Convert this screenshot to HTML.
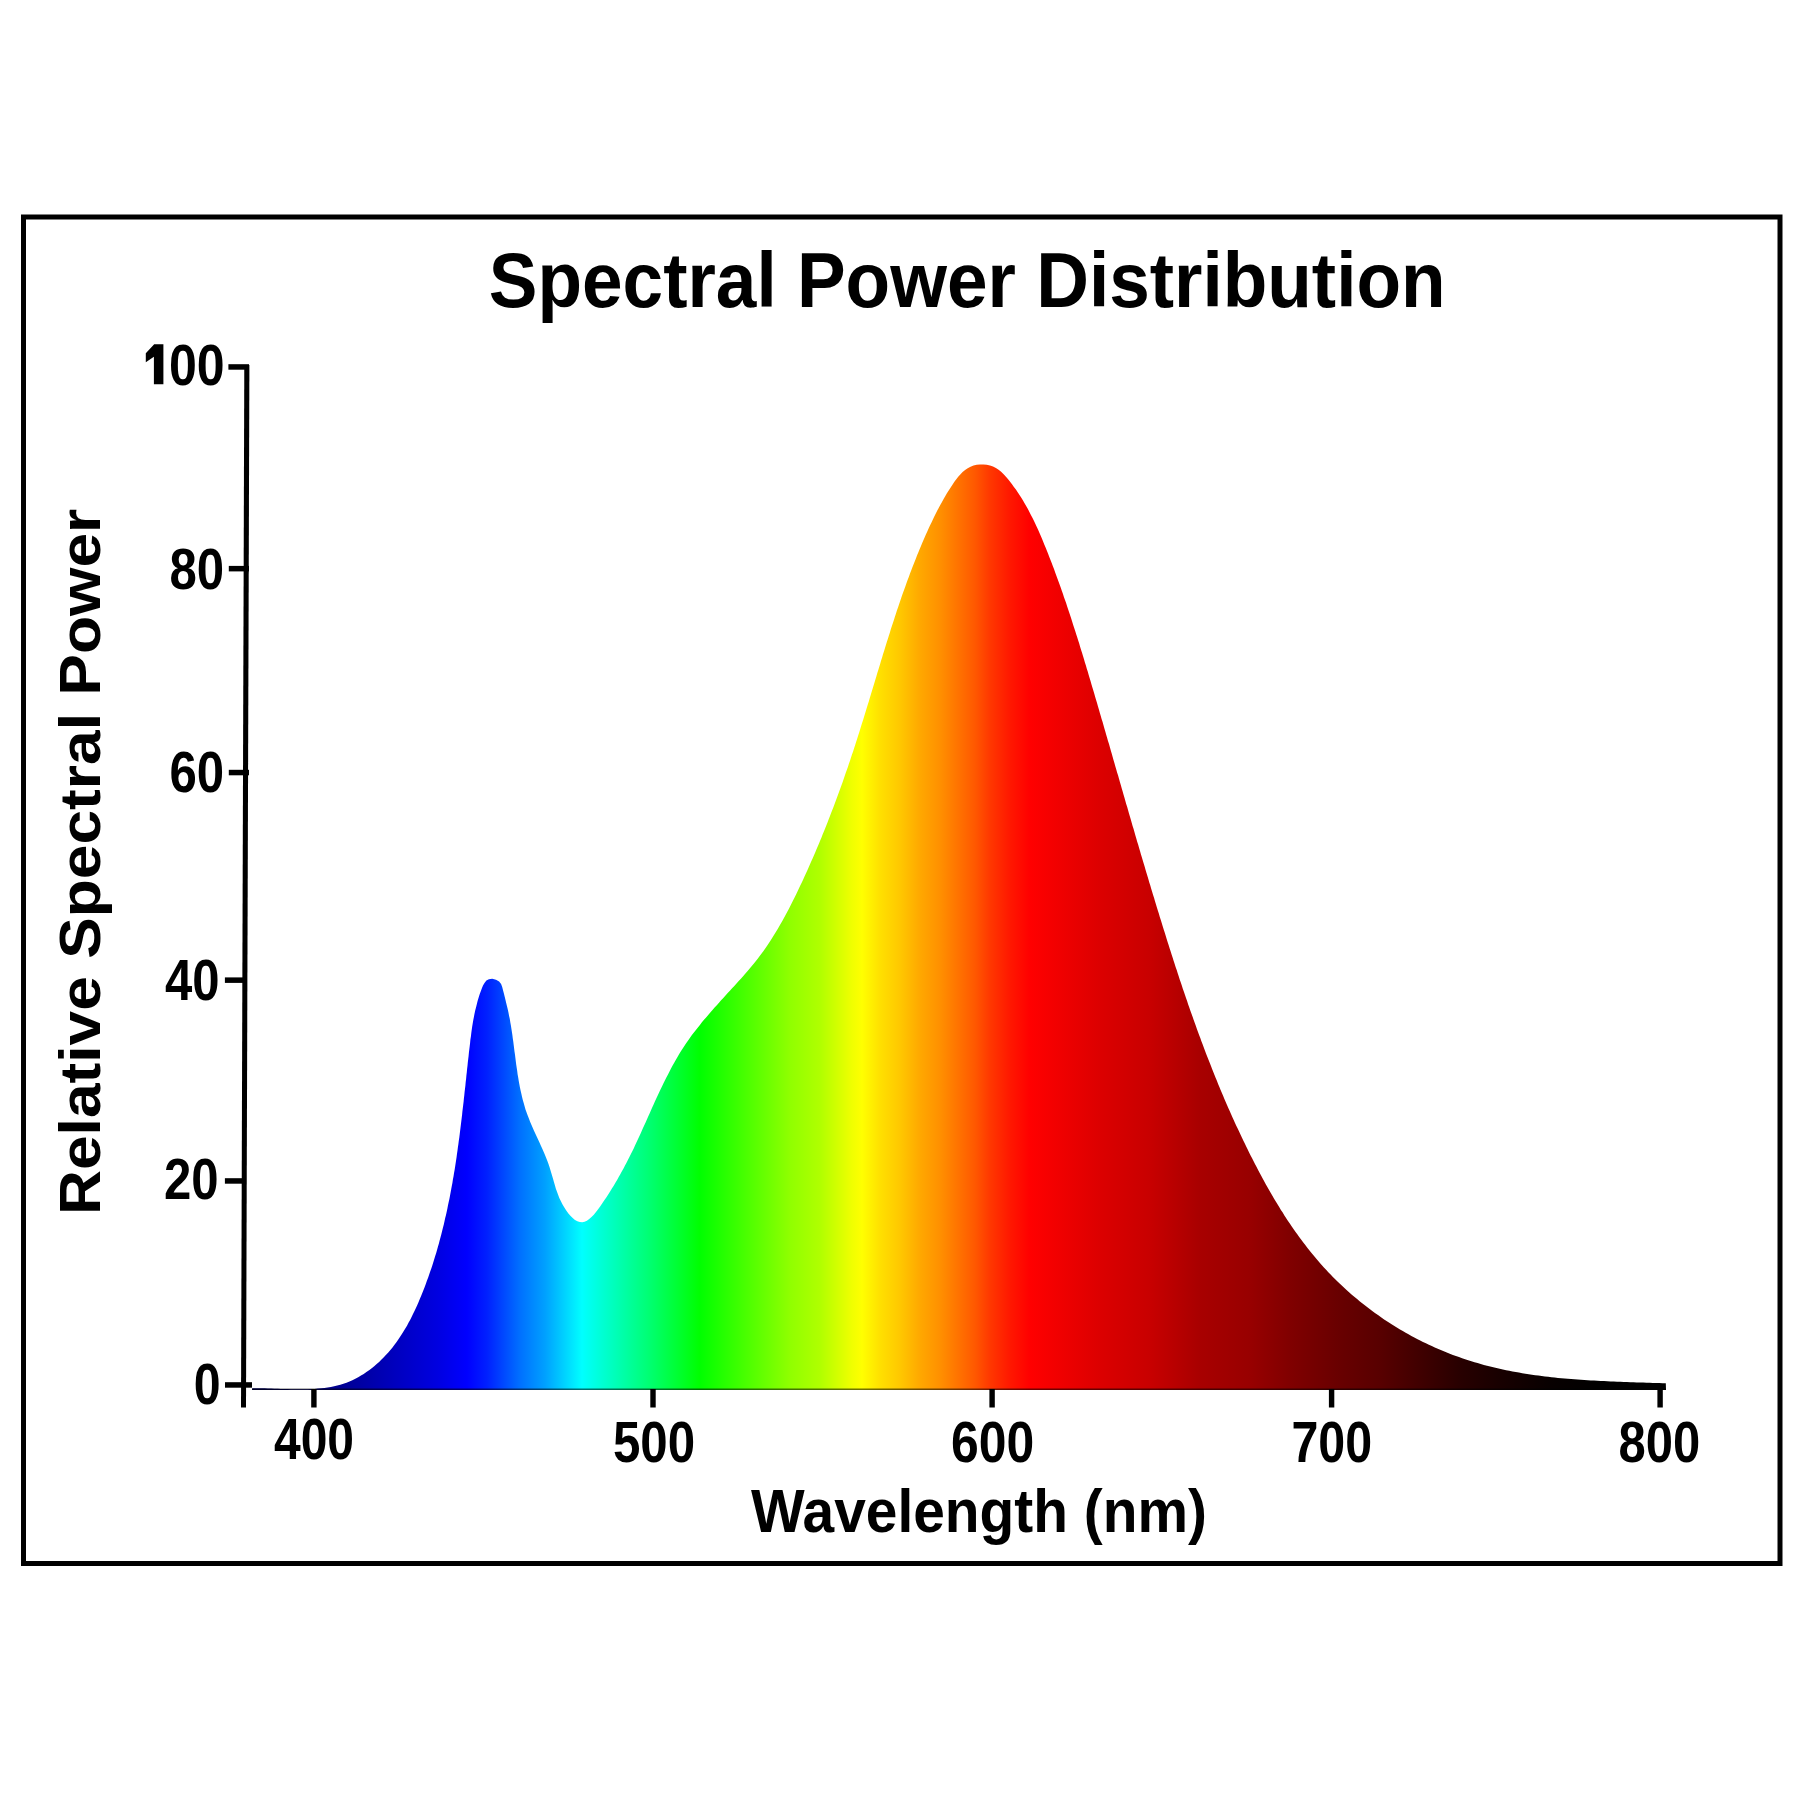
<!DOCTYPE html>
<html><head><meta charset="utf-8"><style>
html,body{margin:0;padding:0;background:#fff;width:1800px;height:1800px;overflow:hidden}
svg{display:block;position:absolute;left:0;top:0}
</style></head><body>
<svg width="1800" height="1800" viewBox="0 0 1800 1800">
<rect width="1800" height="1800" fill="#fff"/>
<rect x="23.5" y="217" width="1756.5" height="1346.5" fill="none" stroke="#000" stroke-width="5"/>
<defs><linearGradient id="spec" gradientUnits="userSpaceOnUse" x1="250" y1="0" x2="1670" y2="0"><stop offset="0.0000" stop-color="#000050"/>
<stop offset="0.0613" stop-color="#000090"/>
<stop offset="0.0965" stop-color="#0000b8"/>
<stop offset="0.1317" stop-color="#0000e0"/>
<stop offset="0.1528" stop-color="#0000ff"/>
<stop offset="0.1669" stop-color="#0020ff"/>
<stop offset="0.1901" stop-color="#0070ff"/>
<stop offset="0.2077" stop-color="#00a0ff"/>
<stop offset="0.2338" stop-color="#00ffff"/>
<stop offset="0.2465" stop-color="#00ffd8"/>
<stop offset="0.2817" stop-color="#00ff70"/>
<stop offset="0.3169" stop-color="#00ff00"/>
<stop offset="0.3521" stop-color="#50ff00"/>
<stop offset="0.3803" stop-color="#90ff00"/>
<stop offset="0.4014" stop-color="#b0ff00"/>
<stop offset="0.4155" stop-color="#d8ff00"/>
<stop offset="0.4239" stop-color="#f0ff00"/>
<stop offset="0.4310" stop-color="#ffff00"/>
<stop offset="0.4437" stop-color="#ffe000"/>
<stop offset="0.4577" stop-color="#ffc800"/>
<stop offset="0.4718" stop-color="#ffa800"/>
<stop offset="0.4859" stop-color="#ff9000"/>
<stop offset="0.5000" stop-color="#ff7000"/>
<stop offset="0.5106" stop-color="#ff5800"/>
<stop offset="0.5211" stop-color="#ff3800"/>
<stop offset="0.5352" stop-color="#ff1800"/>
<stop offset="0.5493" stop-color="#ff0000"/>
<stop offset="0.5704" stop-color="#f00000"/>
<stop offset="0.5986" stop-color="#dc0000"/>
<stop offset="0.6338" stop-color="#c80000"/>
<stop offset="0.6690" stop-color="#a80000"/>
<stop offset="0.7042" stop-color="#980000"/>
<stop offset="0.7324" stop-color="#800000"/>
<stop offset="0.7676" stop-color="#680000"/>
<stop offset="0.7958" stop-color="#580000"/>
<stop offset="0.8239" stop-color="#400000"/>
<stop offset="0.8521" stop-color="#280000"/>
<stop offset="0.8803" stop-color="#180000"/>
<stop offset="0.9155" stop-color="#080000"/>
<stop offset="0.9507" stop-color="#000000"/>
<stop offset="1.0000" stop-color="#000000"/></linearGradient></defs>
<path d="M252.2,1388.2 L255.3,1388.2 L258.4,1388.2 L261.5,1388.3 L264.7,1388.3 L267.9,1388.4 L271.2,1388.5 L274.4,1388.7 L277.7,1388.8 L281.0,1388.9 L284.4,1389.0 L287.7,1389.1 L291.0,1389.2 L294.4,1389.3 L297.8,1389.3 L301.1,1389.3 L304.5,1389.3 L307.8,1389.2 L311.2,1389.1 L314.5,1388.9 L317.8,1388.6 L321.1,1388.3 L324.4,1387.9 L327.6,1387.5 L330.9,1386.9 L334.1,1386.3 L337.2,1385.5 L340.3,1384.7 L343.4,1383.7 L346.5,1382.7 L349.5,1381.5 L352.4,1380.2 L355.3,1378.8 L358.2,1377.3 L361.0,1375.6 L363.7,1373.9 L366.4,1372.1 L369.1,1370.2 L371.7,1368.3 L374.2,1366.2 L376.7,1364.1 L379.1,1361.9 L381.5,1359.6 L383.8,1357.2 L386.1,1354.8 L388.3,1352.4 L390.4,1349.9 L392.5,1347.4 L394.5,1344.8 L396.4,1342.2 L398.3,1339.5 L400.1,1336.8 L401.9,1334.1 L403.6,1331.3 L405.3,1328.5 L407.0,1325.7 L408.5,1322.8 L410.1,1319.9 L411.6,1317.0 L413.0,1314.1 L414.5,1311.1 L415.8,1308.2 L417.2,1305.2 L418.5,1302.2 L419.8,1299.1 L421.1,1296.1 L422.3,1293.1 L423.5,1290.0 L424.7,1287.0 L425.8,1283.9 L426.9,1280.8 L428.1,1277.7 L429.1,1274.7 L430.2,1271.6 L431.3,1268.5 L432.3,1265.4 L433.3,1262.2 L434.3,1259.1 L435.2,1256.0 L436.2,1252.9 L437.1,1249.7 L438.0,1246.6 L438.9,1243.4 L439.7,1240.3 L440.6,1237.1 L441.4,1234.0 L442.2,1230.8 L443.0,1227.6 L443.8,1224.5 L444.5,1221.3 L445.2,1218.1 L446.0,1214.9 L446.7,1211.7 L447.4,1208.5 L448.0,1205.3 L448.7,1202.1 L449.4,1198.9 L450.0,1195.7 L450.6,1192.5 L451.2,1189.3 L451.8,1186.1 L452.4,1182.9 L452.9,1179.6 L453.5,1176.4 L454.0,1173.2 L454.6,1169.9 L455.1,1166.7 L455.6,1163.5 L456.1,1160.2 L456.6,1157.0 L457.0,1153.8 L457.5,1150.5 L457.9,1147.3 L458.4,1144.0 L458.8,1140.8 L459.3,1137.5 L459.7,1134.3 L460.1,1131.0 L460.5,1127.8 L460.9,1124.5 L461.3,1121.3 L461.7,1118.0 L462.1,1114.8 L462.4,1111.5 L462.8,1108.2 L463.2,1105.0 L463.6,1101.7 L463.9,1098.5 L464.3,1095.2 L464.6,1091.9 L465.0,1088.7 L465.4,1085.4 L465.7,1082.1 L466.1,1078.9 L466.4,1075.6 L466.8,1072.3 L467.1,1069.1 L467.5,1065.8 L467.8,1062.5 L468.2,1059.3 L468.6,1056.0 L468.9,1052.7 L469.3,1049.4 L469.7,1046.2 L470.1,1042.9 L470.4,1039.6 L470.9,1036.4 L471.3,1033.1 L471.7,1029.9 L472.2,1026.6 L472.7,1023.4 L473.3,1020.1 L473.9,1016.9 L474.5,1013.7 L475.2,1010.5 L476.0,1007.4 L476.8,1004.2 L477.6,1001.0 L478.5,997.9 L479.5,994.8 L480.6,991.7 L481.8,988.6 L483.0,985.6 L484.5,982.9 L486.4,980.6 L488.9,979.2 L492.2,978.8 L496.0,979.7 L499.1,981.5 L501.1,984.1 L502.2,987.1 L503.1,990.4 L503.9,993.6 L504.7,996.8 L505.5,1000.0 L506.2,1003.1 L507.0,1006.3 L507.8,1009.5 L508.5,1012.7 L509.1,1015.9 L509.8,1019.1 L510.3,1022.3 L510.9,1025.5 L511.4,1028.7 L511.9,1032.0 L512.4,1035.2 L512.8,1038.5 L513.3,1041.7 L513.7,1045.0 L514.1,1048.2 L514.5,1051.5 L515.0,1054.8 L515.4,1058.0 L515.8,1061.3 L516.2,1064.5 L516.7,1067.8 L517.2,1071.0 L517.6,1074.3 L518.2,1077.5 L518.7,1080.8 L519.3,1084.0 L519.9,1087.2 L520.6,1090.4 L521.3,1093.6 L522.0,1096.8 L522.8,1099.9 L523.7,1103.1 L524.6,1106.2 L525.5,1109.4 L526.6,1112.5 L527.7,1115.6 L528.9,1118.6 L530.1,1121.7 L531.4,1124.7 L532.7,1127.8 L534.0,1130.8 L535.4,1133.8 L536.8,1136.8 L538.2,1139.8 L539.6,1142.8 L540.9,1145.8 L542.3,1148.8 L543.6,1151.8 L544.9,1154.8 L546.1,1157.8 L547.3,1160.8 L548.4,1163.8 L549.5,1166.9 L550.4,1169.9 L551.3,1173.0 L552.2,1176.1 L553.1,1179.1 L554.0,1182.2 L554.9,1185.3 L555.8,1188.5 L556.9,1191.6 L558.1,1194.7 L559.3,1197.9 L560.8,1201.0 L562.4,1204.2 L564.2,1207.3 L566.1,1210.3 L568.2,1213.2 L570.4,1215.8 L572.7,1218.0 L575.0,1219.9 L577.4,1221.2 L579.8,1222.1 L582.2,1222.2 L584.6,1221.7 L586.9,1220.7 L589.2,1219.1 L591.5,1217.0 L593.8,1214.7 L596.0,1212.0 L598.1,1209.2 L600.3,1206.3 L602.3,1203.3 L604.3,1200.3 L606.3,1197.4 L608.2,1194.5 L610.1,1191.6 L611.9,1188.6 L613.7,1185.7 L615.4,1182.8 L617.1,1180.0 L618.7,1177.1 L620.3,1174.2 L621.9,1171.3 L623.5,1168.4 L625.0,1165.6 L626.5,1162.7 L628.0,1159.8 L629.4,1157.0 L630.9,1154.1 L632.3,1151.2 L633.7,1148.4 L635.0,1145.5 L636.4,1142.6 L637.7,1139.7 L639.1,1136.8 L640.4,1133.9 L641.7,1131.0 L643.0,1128.1 L644.4,1125.1 L645.7,1122.2 L647.0,1119.2 L648.3,1116.3 L649.7,1113.3 L651.0,1110.3 L652.3,1107.3 L653.7,1104.3 L655.0,1101.3 L656.4,1098.3 L657.8,1095.3 L659.2,1092.3 L660.6,1089.3 L662.1,1086.3 L663.5,1083.3 L665.0,1080.3 L666.5,1077.3 L668.0,1074.4 L669.5,1071.4 L671.0,1068.5 L672.6,1065.6 L674.2,1062.7 L675.9,1059.8 L677.5,1057.0 L679.2,1054.1 L680.9,1051.3 L682.7,1048.6 L684.5,1045.8 L686.3,1043.1 L688.1,1040.4 L690.0,1037.8 L691.9,1035.1 L693.9,1032.5 L695.9,1029.9 L697.9,1027.4 L699.9,1024.9 L701.9,1022.3 L704.0,1019.8 L706.1,1017.4 L708.2,1014.9 L710.3,1012.4 L712.5,1010.0 L714.6,1007.6 L716.8,1005.2 L719.0,1002.7 L721.1,1000.3 L723.3,997.9 L725.5,995.5 L727.7,993.1 L729.9,990.7 L732.1,988.3 L734.3,985.9 L736.5,983.5 L738.7,981.1 L740.9,978.7 L743.1,976.2 L745.2,973.8 L747.4,971.3 L749.5,968.8 L751.6,966.3 L753.7,963.8 L755.7,961.3 L757.7,958.7 L759.7,956.1 L761.6,953.5 L763.5,950.9 L765.4,948.2 L767.3,945.5 L769.1,942.8 L770.9,940.1 L772.6,937.3 L774.3,934.6 L776.0,931.8 L777.7,929.0 L779.4,926.1 L781.0,923.3 L782.6,920.4 L784.2,917.6 L785.7,914.7 L787.3,911.8 L788.8,908.9 L790.3,906.0 L791.8,903.1 L793.3,900.1 L794.7,897.2 L796.2,894.2 L797.6,891.3 L799.0,888.3 L800.4,885.3 L801.8,882.4 L803.2,879.4 L804.5,876.4 L805.9,873.4 L807.3,870.4 L808.6,867.4 L809.9,864.5 L811.2,861.5 L812.6,858.5 L813.9,855.5 L815.2,852.4 L816.4,849.4 L817.7,846.4 L819.0,843.4 L820.2,840.4 L821.5,837.4 L822.7,834.3 L824.0,831.3 L825.2,828.3 L826.4,825.2 L827.6,822.2 L828.8,819.1 L830.0,816.1 L831.1,813.0 L832.3,810.0 L833.5,806.9 L834.6,803.9 L835.8,800.8 L836.9,797.8 L838.0,794.7 L839.2,791.6 L840.3,788.5 L841.4,785.5 L842.5,782.4 L843.6,779.3 L844.6,776.2 L845.7,773.1 L846.8,770.0 L847.9,766.9 L848.9,763.8 L850.0,760.7 L851.0,757.6 L852.0,754.5 L853.1,751.4 L854.1,748.3 L855.1,745.2 L856.1,742.1 L857.1,739.0 L858.1,735.8 L859.1,732.7 L860.1,729.6 L861.0,726.5 L862.0,723.3 L863.0,720.2 L864.0,717.1 L864.9,713.9 L865.9,710.8 L866.8,707.7 L867.8,704.5 L868.8,701.4 L869.7,698.3 L870.7,695.1 L871.6,692.0 L872.6,688.8 L873.5,685.7 L874.5,682.6 L875.4,679.4 L876.4,676.3 L877.3,673.1 L878.3,670.0 L879.2,666.9 L880.2,663.7 L881.1,660.6 L882.1,657.5 L883.0,654.3 L884.0,651.2 L885.0,648.1 L885.9,644.9 L886.9,641.8 L887.9,638.7 L888.9,635.5 L889.9,632.4 L890.8,629.3 L891.8,626.2 L892.9,623.1 L893.9,619.9 L894.9,616.8 L895.9,613.7 L896.9,610.6 L898.0,607.5 L899.0,604.4 L900.1,601.3 L901.1,598.2 L902.2,595.1 L903.3,592.0 L904.4,589.0 L905.5,585.9 L906.6,582.8 L907.7,579.7 L908.9,576.7 L910.0,573.6 L911.2,570.6 L912.3,567.5 L913.5,564.5 L914.7,561.4 L915.9,558.4 L917.1,555.3 L918.4,552.3 L919.6,549.3 L920.9,546.3 L922.1,543.3 L923.4,540.3 L924.7,537.3 L926.0,534.3 L927.4,531.3 L928.7,528.3 L930.1,525.3 L931.5,522.4 L932.9,519.4 L934.3,516.5 L935.8,513.5 L937.3,510.6 L938.8,507.7 L940.4,504.8 L942.0,501.9 L943.6,499.0 L945.2,496.2 L946.9,493.3 L948.7,490.5 L950.5,487.7 L952.3,484.9 L954.2,482.1 L956.1,479.4 L958.2,476.8 L960.3,474.4 L962.6,472.1 L965.1,470.0 L967.7,468.3 L970.5,466.8 L973.5,465.6 L976.7,464.8 L980.0,464.4 L983.4,464.4 L986.7,464.7 L990.0,465.5 L993.0,466.6 L995.9,468.0 L998.6,469.8 L1001.1,471.8 L1003.4,474.1 L1005.7,476.5 L1007.9,479.0 L1009.9,481.6 L1012.0,484.2 L1013.9,486.9 L1015.9,489.6 L1017.7,492.3 L1019.5,495.0 L1021.3,497.8 L1023.0,500.6 L1024.7,503.4 L1026.3,506.2 L1027.9,509.1 L1029.4,512.0 L1030.9,514.9 L1032.4,517.8 L1033.9,520.7 L1035.3,523.7 L1036.7,526.7 L1038.0,529.6 L1039.3,532.6 L1040.6,535.6 L1041.9,538.6 L1043.2,541.7 L1044.4,544.7 L1045.7,547.7 L1046.9,550.8 L1048.1,553.8 L1049.3,556.9 L1050.5,559.9 L1051.7,563.0 L1052.8,566.1 L1054.0,569.1 L1055.1,572.2 L1056.2,575.3 L1057.4,578.4 L1058.5,581.4 L1059.6,584.5 L1060.7,587.6 L1061.8,590.7 L1062.9,593.8 L1063.9,596.9 L1065.0,600.0 L1066.1,603.1 L1067.1,606.2 L1068.1,609.3 L1069.2,612.4 L1070.2,615.5 L1071.2,618.6 L1072.2,621.7 L1073.2,624.9 L1074.2,628.0 L1075.2,631.1 L1076.2,634.2 L1077.2,637.3 L1078.2,640.5 L1079.2,643.6 L1080.1,646.7 L1081.1,649.9 L1082.1,653.0 L1083.0,656.1 L1084.0,659.3 L1084.9,662.4 L1085.9,665.5 L1086.8,668.7 L1087.8,671.8 L1088.7,675.0 L1089.6,678.1 L1090.6,681.2 L1091.5,684.4 L1092.4,687.5 L1093.4,690.7 L1094.3,693.8 L1095.2,697.0 L1096.1,700.1 L1097.1,703.2 L1098.0,706.4 L1098.9,709.5 L1099.8,712.7 L1100.7,715.8 L1101.6,719.0 L1102.6,722.1 L1103.5,725.3 L1104.4,728.4 L1105.3,731.6 L1106.2,734.7 L1107.1,737.8 L1108.0,741.0 L1109.0,744.1 L1109.9,747.3 L1110.8,750.4 L1111.7,753.6 L1112.6,756.7 L1113.5,759.9 L1114.4,763.0 L1115.3,766.2 L1116.2,769.3 L1117.1,772.5 L1118.1,775.6 L1119.0,778.8 L1119.9,781.9 L1120.8,785.0 L1121.7,788.2 L1122.6,791.3 L1123.5,794.5 L1124.4,797.6 L1125.3,800.8 L1126.2,803.9 L1127.2,807.1 L1128.1,810.2 L1129.0,813.4 L1129.9,816.5 L1130.8,819.6 L1131.7,822.8 L1132.6,825.9 L1133.6,829.1 L1134.5,832.2 L1135.4,835.4 L1136.3,838.5 L1137.2,841.7 L1138.2,844.8 L1139.1,847.9 L1140.0,851.1 L1140.9,854.2 L1141.9,857.4 L1142.8,860.5 L1143.7,863.6 L1144.7,866.8 L1145.6,869.9 L1146.5,873.1 L1147.5,876.2 L1148.4,879.3 L1149.3,882.5 L1150.3,885.6 L1151.2,888.7 L1152.2,891.9 L1153.1,895.0 L1154.1,898.1 L1155.0,901.3 L1156.0,904.4 L1156.9,907.6 L1157.9,910.7 L1158.9,913.8 L1159.8,916.9 L1160.8,920.1 L1161.8,923.2 L1162.7,926.3 L1163.7,929.5 L1164.7,932.6 L1165.7,935.7 L1166.6,938.8 L1167.6,942.0 L1168.6,945.1 L1169.6,948.2 L1170.6,951.3 L1171.6,954.5 L1172.6,957.6 L1173.6,960.7 L1174.6,963.8 L1175.6,966.9 L1176.7,970.0 L1177.7,973.2 L1178.7,976.3 L1179.7,979.4 L1180.8,982.5 L1181.8,985.6 L1182.8,988.7 L1183.9,991.8 L1185.0,994.9 L1186.0,998.0 L1187.1,1001.1 L1188.1,1004.2 L1189.2,1007.3 L1190.3,1010.4 L1191.4,1013.5 L1192.5,1016.6 L1193.6,1019.7 L1194.7,1022.7 L1195.8,1025.8 L1196.9,1028.9 L1198.0,1032.0 L1199.1,1035.0 L1200.3,1038.1 L1201.4,1041.2 L1202.6,1044.3 L1203.7,1047.3 L1204.9,1050.4 L1206.0,1053.4 L1207.2,1056.5 L1208.4,1059.5 L1209.6,1062.6 L1210.8,1065.6 L1212.0,1068.7 L1213.2,1071.7 L1214.4,1074.8 L1215.6,1077.8 L1216.9,1080.8 L1218.1,1083.9 L1219.4,1086.9 L1220.6,1089.9 L1221.9,1092.9 L1223.2,1095.9 L1224.4,1098.9 L1225.7,1102.0 L1227.0,1105.0 L1228.3,1108.0 L1229.7,1111.0 L1231.0,1113.9 L1232.3,1116.9 L1233.7,1119.9 L1235.0,1122.9 L1236.4,1125.9 L1237.8,1128.8 L1239.2,1131.8 L1240.6,1134.8 L1242.0,1137.7 L1243.4,1140.7 L1244.8,1143.6 L1246.2,1146.6 L1247.7,1149.5 L1249.1,1152.5 L1250.6,1155.4 L1252.1,1158.3 L1253.6,1161.3 L1255.1,1164.2 L1256.6,1167.1 L1258.1,1170.0 L1259.7,1172.9 L1261.2,1175.8 L1262.8,1178.7 L1264.3,1181.6 L1265.9,1184.4 L1267.5,1187.3 L1269.2,1190.2 L1270.8,1193.0 L1272.4,1195.8 L1274.1,1198.7 L1275.8,1201.5 L1277.5,1204.3 L1279.2,1207.1 L1280.9,1209.9 L1282.7,1212.6 L1284.4,1215.4 L1286.2,1218.2 L1288.0,1220.9 L1289.8,1223.6 L1291.6,1226.3 L1293.5,1229.0 L1295.4,1231.7 L1297.3,1234.3 L1299.2,1237.0 L1301.1,1239.6 L1303.1,1242.2 L1305.1,1244.8 L1307.1,1247.4 L1309.1,1250.0 L1311.1,1252.5 L1313.2,1255.1 L1315.3,1257.6 L1317.4,1260.1 L1319.5,1262.5 L1321.7,1265.0 L1323.9,1267.4 L1326.1,1269.8 L1328.3,1272.2 L1330.6,1274.6 L1332.9,1276.9 L1335.2,1279.2 L1337.5,1281.5 L1339.9,1283.8 L1342.3,1286.1 L1344.7,1288.3 L1347.1,1290.5 L1349.6,1292.7 L1352.1,1294.9 L1354.6,1297.0 L1357.1,1299.1 L1359.6,1301.2 L1362.2,1303.3 L1364.8,1305.3 L1367.4,1307.3 L1370.0,1309.3 L1372.6,1311.3 L1375.3,1313.2 L1378.0,1315.1 L1380.7,1317.0 L1383.4,1318.9 L1386.1,1320.7 L1388.9,1322.5 L1391.6,1324.3 L1394.4,1326.0 L1397.2,1327.7 L1400.0,1329.4 L1402.8,1331.1 L1405.7,1332.7 L1408.5,1334.3 L1411.4,1335.9 L1414.3,1337.4 L1417.1,1338.9 L1420.1,1340.4 L1423.0,1341.9 L1425.9,1343.3 L1428.9,1344.7 L1431.8,1346.1 L1434.8,1347.4 L1437.8,1348.7 L1440.8,1350.0 L1443.8,1351.3 L1446.8,1352.5 L1449.8,1353.7 L1452.9,1354.9 L1455.9,1356.0 L1459.0,1357.1 L1462.1,1358.2 L1465.1,1359.2 L1468.2,1360.3 L1471.4,1361.2 L1474.5,1362.2 L1477.6,1363.1 L1480.7,1364.0 L1483.9,1364.9 L1487.0,1365.7 L1490.2,1366.5 L1493.3,1367.3 L1496.5,1368.1 L1499.7,1368.8 L1502.9,1369.5 L1506.1,1370.2 L1509.3,1370.8 L1512.5,1371.5 L1515.7,1372.1 L1519.0,1372.6 L1522.2,1373.2 L1525.4,1373.7 L1528.7,1374.2 L1531.9,1374.7 L1535.2,1375.2 L1538.4,1375.6 L1541.7,1376.0 L1544.9,1376.4 L1548.2,1376.8 L1551.5,1377.2 L1554.7,1377.6 L1558.0,1377.9 L1561.3,1378.2 L1564.6,1378.5 L1567.8,1378.8 L1571.1,1379.1 L1574.4,1379.3 L1577.7,1379.6 L1581.0,1379.8 L1584.3,1380.0 L1587.6,1380.2 L1590.8,1380.4 L1594.1,1380.6 L1597.4,1380.8 L1600.7,1381.0 L1604.0,1381.1 L1607.3,1381.3 L1610.6,1381.4 L1613.8,1381.6 L1617.1,1381.7 L1620.4,1381.8 L1623.7,1381.9 L1626.9,1382.1 L1630.2,1382.2 L1633.5,1382.3 L1636.7,1382.4 L1640.0,1382.5 L1643.2,1382.6 L1646.5,1382.7 L1649.7,1382.8 L1652.9,1382.9 L1656.2,1383.0 L1659.4,1383.1 L1662.6,1383.2 L1665.8,1383.3 L1666,1390 L252,1390 Z" fill="url(#spec)"/>
<line x1="252" y1="1389.2" x2="1666" y2="1389.2" stroke="#000" stroke-opacity="0.55" stroke-width="1.5"/>
<polygon points="244.3,365 249.4,365 246,1407.5 241,1407.5" fill="#000"/>
<polygon points="145.8,353.2 154.2,344.2 163.4,344.2 163.4,384.2 153.9,384.2 153.9,356.8 145.8,362.2" fill="#000"/>
<rect x="228.4" y="364.2" width="20.6" height="5.5" fill="#000"/>
<rect x="228.8" y="565.9" width="20.2" height="5.5" fill="#000"/>
<rect x="228.8" y="769.8" width="20.2" height="5.5" fill="#000"/>
<rect x="224.9" y="977.4" width="22.1" height="5.5" fill="#000"/>
<rect x="224.9" y="1178.2" width="21.1" height="5.5" fill="#000"/>
<rect x="225.0" y="1382.2" width="27.0" height="5.5" fill="#000"/>
<rect x="311.2" y="1389" width="5.4" height="18.5" fill="#000"/>
<rect x="650.3" y="1389" width="5.4" height="18.5" fill="#000"/>
<rect x="989.4" y="1389" width="5.4" height="18.5" fill="#000"/>
<rect x="1328.9" y="1389" width="5.4" height="18.5" fill="#000"/>
<rect x="1657.4" y="1389" width="5.4" height="18.5" fill="#000"/>
<g font-family="'Liberation Sans', sans-serif" font-weight="bold" fill="#000">
<text x="168.90" y="384.50" font-size="57.50" textLength="55.74" lengthAdjust="spacingAndGlyphs">00</text>
<text x="169.44" y="588.60" font-size="57.50" textLength="54.67" lengthAdjust="spacingAndGlyphs">80</text>
<text x="169.44" y="792.30" font-size="57.50" textLength="54.67" lengthAdjust="spacingAndGlyphs">60</text>
<text x="164.97" y="999.50" font-size="57.50" textLength="54.61" lengthAdjust="spacingAndGlyphs">40</text>
<text x="163.91" y="1198.60" font-size="57.50" textLength="54.67" lengthAdjust="spacingAndGlyphs">20</text>
<text x="193.79" y="1404.00" font-size="57.50" textLength="26.87" lengthAdjust="spacingAndGlyphs">0</text>
<text x="273.97" y="1458.80" font-size="57.50" textLength="80.09" lengthAdjust="spacingAndGlyphs">400</text>
<text x="612.97" y="1462.00" font-size="57.50" textLength="82.12" lengthAdjust="spacingAndGlyphs">500</text>
<text x="950.94" y="1462.00" font-size="57.50" textLength="83.18" lengthAdjust="spacingAndGlyphs">600</text>
<text x="1291.40" y="1462.00" font-size="57.50" textLength="80.71" lengthAdjust="spacingAndGlyphs">700</text>
<text x="1618.44" y="1462.00" font-size="57.50" textLength="81.67" lengthAdjust="spacingAndGlyphs">800</text>
<text x="488.74" y="307.20" font-size="77.50" textLength="956.82" lengthAdjust="spacingAndGlyphs">Spectral Power Distribution</text>
<text x="751.00" y="1532.30" font-size="62.00" textLength="455.99" lengthAdjust="spacingAndGlyphs">Wavelength (nm)</text>
<g transform="translate(100.00,1215.03) scale(0.920,1) rotate(-90)"><text x="-0.00" y="0" font-size="63.00" textLength="706.32" lengthAdjust="spacingAndGlyphs">Relative Spectral Power</text></g>
</g>
</svg>
</body></html>
